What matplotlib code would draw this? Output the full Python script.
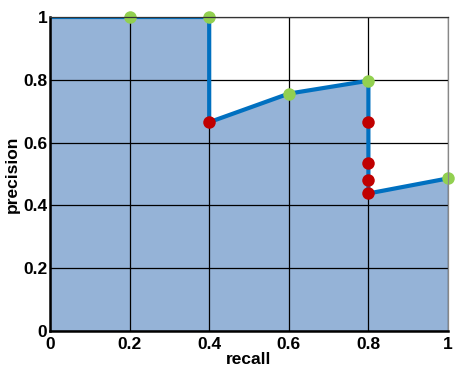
import matplotlib
matplotlib.use("Agg")
import matplotlib.pyplot as plt

# Curve (recall, precision)
curve_recall = [0.0, 0.2, 0.4, 0.4, 0.6, 0.8, 0.8, 1.0]
curve_precision = [1.0, 1.0, 1.0, 0.665, 0.756, 0.797, 0.438, 0.486]

green_recall = [0.2, 0.4, 0.6, 0.8, 1.0]
green_precision = [1.0, 1.0, 0.756, 0.797, 0.486]

red_recall = [0.4, 0.8, 0.8, 0.8, 0.8]
red_precision = [0.665, 0.667, 0.534, 0.481, 0.438]

ticks = [0, 0.2, 0.4, 0.6, 0.8, 1]
tick_labels = ["0", "0.2", "0.4", "0.6", "0.8", "1"]

plt.rcParams['font.family'] = ['Liberation Sans', 'DejaVu Sans']

fig = plt.figure(figsize=(4.77, 3.72), dpi=100)
ax = fig.add_axes([50/477, 1-331/372, (448-50)/477, (331-17)/372])

ax.fill_between(curve_recall, curve_precision, 0, color='#95B3D7', zorder=1, linewidth=0)
ax.grid(True, color='black', linewidth=0.9, zorder=2)
ax.set_axisbelow(False)
for gl in ax.get_xgridlines() + ax.get_ygridlines():
    gl.set_zorder(2)
ax.plot(curve_recall, curve_precision, color='#0070C0', linewidth=3, zorder=3,
        solid_joinstyle='miter')
ax.plot(green_recall, green_precision, 'o', color='#92D050', markersize=9,
        markeredgewidth=0, zorder=4, clip_on=False)
ax.plot(red_recall, red_precision, 'o', color='#C00000', markersize=9,
        markeredgewidth=0, zorder=4, clip_on=False)

ax.set_xlim(0, 1)
ax.set_ylim(0, 1)
ax.set_xticks(ticks)
ax.set_xticklabels(tick_labels)
ax.set_yticks(ticks)
ax.set_yticklabels(tick_labels)
ax.tick_params(length=0, labelsize=12.5)
ax.tick_params(axis='x', pad=4)
ax.tick_params(axis='y', pad=2)
for lbl in ax.get_xticklabels() + ax.get_yticklabels():
    lbl.set_fontweight('bold')

ax.set_xlabel('recall', fontsize=12.5, fontweight='bold', labelpad=0)
ax.set_ylabel('precision', fontsize=12.5, fontweight='bold', labelpad=2)

ax.spines['left'].set_linewidth(1.8)
ax.spines['bottom'].set_linewidth(1.8)
ax.spines['top'].set_color('#333333')
ax.spines['right'].set_color('#888888')
ax.spines['top'].set_linewidth(0.9)
ax.spines['right'].set_linewidth(0.9)
for s in ax.spines.values():
    s.set_zorder(5)

fig.savefig('out.png', dpi=100)
